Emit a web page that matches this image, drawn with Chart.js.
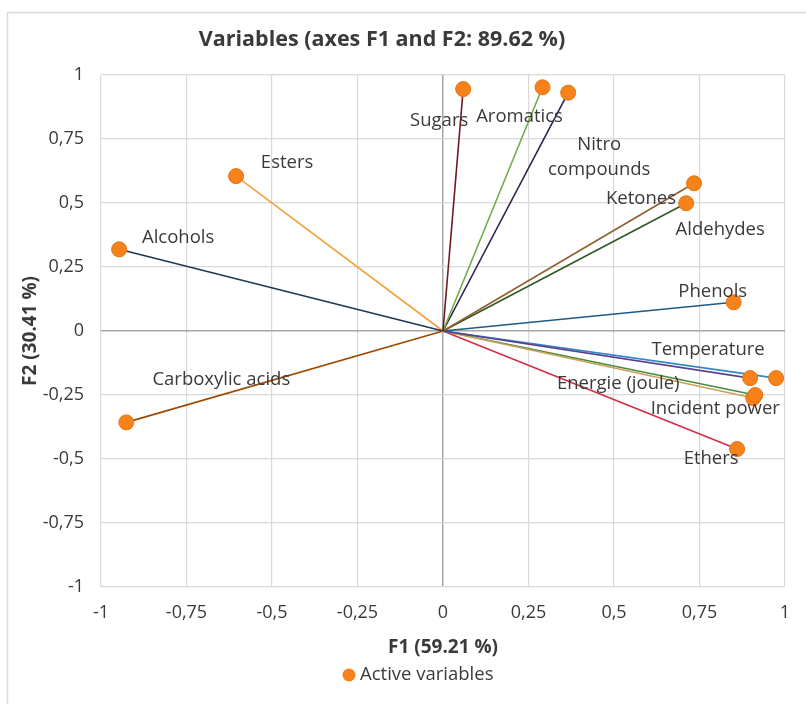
<!DOCTYPE html>
<html>
<head>
<meta charset="utf-8">
<script src="https://cdn.jsdelivr.net/npm/chart.js@4.4.1/dist/chart.umd.min.js"></script>
<style>
  html, body { margin: 0; padding: 0; background: #fff; }
  #wrap { width: 806px; height: 704px; }
</style>
</head>
<body>
<div id="wrap"><canvas id="chart-canvas" width="806" height="704"></canvas></div>
<script>
// variable names (one label is hidden in the original, overlapping)
var variables = ["Sugars", "Aromatics", "Nitro\ncompounds", "Ketones", "Aldehydes", "Phenols",
                 "Temperature", "", "Energie (joule)", "Incident power", "Ethers",
                 "Carboxylic acids", "Alcohols", "Esters"];
// correlations with factor F1 and F2
var f1 = [0.059, 0.291, 0.366, 0.734, 0.711, 0.850, 0.898, 0.974, 0.907, 0.913, 0.860, -0.926, -0.947, -0.605];
var f2 = [0.945, 0.952, 0.931, 0.577, 0.499, 0.112, -0.184, -0.184, -0.262, -0.250, -0.461, -0.357, 0.319, 0.605];
var axisTicks = [-1, -0.75, -0.5, -0.25, 0, 0.25, 0.5, 0.75, 1];

// vector colours
var lineColors = ["#6e1c24", "#70ad47", "#2f2350", "#8f6030", "#2f5a25", "#1f5a85",
                  "#5b3f8f", "#2e86c8", "#c9a15c", "#4a8c3f", "#d02f47",
                  "#9c4a00", "#1c3a52", "#f5a13c"];
// label offsets from the point, in pixels
var labelOffsets = [[-24, 32], [-23, 29], [31, 52], [-53, 15], [34, 26], [-21, -11],
                    [-42, -28], [0, 0], [-135, -14], [-40, 14], [-26, 10],
                    [95, -43], [59, -12], [51, -13]];

var FONT = "'Open Sans', sans-serif";
var TXT = "#3a3a3a";

var datasets = [{
    label: "Active variables",
    type: "scatter",
    order: 0,
    data: f1.map(function (x, i) { return { x: x, y: f2[i] }; }),
    backgroundColor: "#f7821b",
    borderColor: "#e8730f",
    borderWidth: 1,
    pointRadius: 7.5,
    pointHoverRadius: 7.5
}];
f1.forEach(function (x, i) {
    datasets.push({
        label: "v" + i,
        type: "line",
        order: 1,
        data: [{ x: 0, y: 0 }, { x: x, y: f2[i] }],
        borderColor: lineColors[i],
        borderWidth: 1.6,
        pointRadius: 0,
        fill: false
    });
});

var decorations = {
    id: "decorations",
    beforeDraw: function (chart) {
        var c = chart.ctx;
        c.save();
        c.fillStyle = "#fff";
        c.fillRect(0, 0, chart.width, chart.height);
        c.strokeStyle = "#d9d9d9";
        c.lineWidth = 1.5;
        c.beginPath();
        c.moveTo(7.5, chart.height);
        c.lineTo(7.5, 12.5);
        c.lineTo(chart.width, 12.5);
        c.stroke();
        // title
        c.fillStyle = TXT;
        c.font = "bold 21.5px " + FONT;
        c.textAlign = "center";
        c.textBaseline = "middle";
        c.fillText("Variables (axes F1 and F2: 89.62 %)", 382, 40);
        c.restore();
    },
    afterDatasetsDraw: function (chart) {
        var c = chart.ctx;
        var xs = chart.scales.x, ys = chart.scales.y;
        c.save();
        c.fillStyle = TXT;
        c.font = "18.5px " + FONT;
        c.textAlign = "center";
        c.textBaseline = "middle";
        variables.forEach(function (name, i) {
            if (!name) return;
            var px = xs.getPixelForValue(f1[i]) + labelOffsets[i][0];
            var py = ys.getPixelForValue(f2[i]) + labelOffsets[i][1];
            name.split("\n").forEach(function (line, k) {
                c.fillText(line, px, py + k * 25);
            });
        });
        // axis titles
        c.font = "bold 19px " + FONT;
        c.fillText("F1 (59.21 %)", 443, 648);
        c.save();
        c.translate(31, 331);
        c.rotate(-Math.PI / 2);
        c.fillText("F2 (30.41 %)", 0, 0);
        c.restore();
        // legend
        c.beginPath();
        c.arc(349, 675, 6.5, 0, Math.PI * 2);
        c.fillStyle = "#f7821b";
        c.fill();
        c.fillStyle = TXT;
        c.font = "18.5px " + FONT;
        c.textAlign = "left";
        c.fillText("Active variables", 360, 675);
        c.restore();
    }
};

function fmt(v) { return String(v).replace(".", ","); }
function gridColor(ctx) { return ctx.tick && ctx.tick.value === 0 ? "#a6a6a6" : "#d9d9d9"; }
function gridWidth(ctx) { return ctx.tick && ctx.tick.value === 0 ? 1.5 : 1.2; }

var ctx = document.getElementById("chart-canvas").getContext("2d");
var myChart = new Chart(ctx, {
    type: "scatter",
    data: { datasets: datasets },
    options: {
        responsive: false,
        animation: false,
        layout: { padding: { top: 75, right: 21, bottom: 0, left: 0 } },
        plugins: { legend: { display: false }, title: { display: false }, tooltip: { enabled: false } },
        scales: {
            x: {
                type: "linear", min: -1, max: 1,
                afterFit: function (s) { s.height = 117; },
                afterBuildTicks: function (s) { s.ticks = axisTicks.map(function (v) { return { value: v }; }); },
                grid: { color: gridColor, lineWidth: gridWidth, drawTicks: false },
                border: { display: false },
                ticks: { padding: 15, color: TXT, font: { family: FONT, size: 18 }, callback: fmt, maxRotation: 0 }
            },
            y: {
                type: "linear", min: -1, max: 1,
                afterFit: function (s) { s.width = 101; },
                afterBuildTicks: function (s) { s.ticks = axisTicks.map(function (v) { return { value: v }; }); },
                grid: { color: gridColor, lineWidth: gridWidth, drawTicks: false },
                border: { display: false },
                ticks: { padding: 17, color: TXT, font: { family: FONT, size: 18 }, callback: fmt }
            }
        }
    },
    plugins: [decorations]
});
</script>
</body>
</html>
